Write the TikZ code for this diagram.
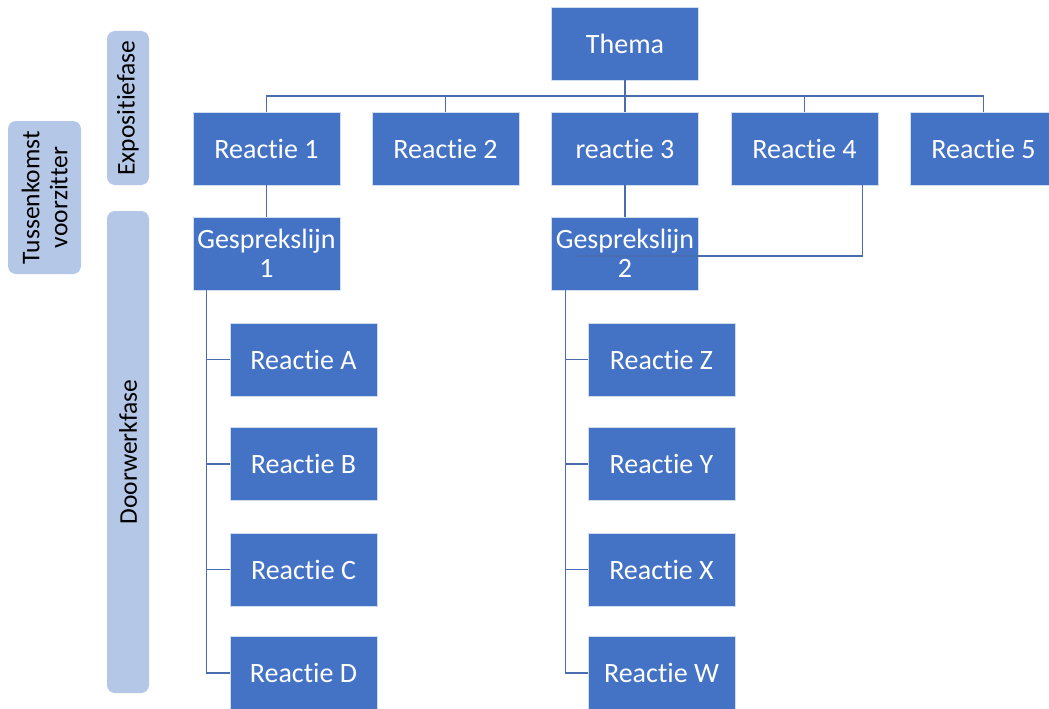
\documentclass[tikz,border=0pt]{standalone}
\usepackage{fontspec}
\setmainfont{Carlito}[Ligatures=NoCommon]
\definecolor{dblue}{HTML}{4472C4}
\definecolor{lblue}{HTML}{B4C7E7}
\definecolor{lcol}{HTML}{4A6DB0}
\begin{document}
\begin{tikzpicture}[x=1pt,y=-1pt,
  box/.style={fill=dblue, draw=white!75!dblue, line width=0.6pt, text=white,
    minimum width=147pt, minimum height=73pt, inner sep=0pt,
    font=\fontsize{28}{29}\selectfont, align=center},
  lbox/.style={fill=lblue, rounded corners=8pt, text=black, inner sep=0pt,
    font=\fontsize{25.5}{28}\selectfont, align=center, rotate=90},
  conn/.style={draw=lcol, line width=1.1pt}]
\useasboundingbox (0,0) rectangle (1049,709);
\clip (0,0) rectangle (1049,709);
% left side labels
\node[lbox, minimum width=154pt, minimum height=42pt] (expo) at (128,108) {Expositiefase};
\node[lbox, minimum width=482pt, minimum height=42pt] (door) at (128,452) {Doorwerkfase};
\node[lbox, minimum width=153pt, minimum height=73pt] (tuss) at (44.5,197.5) {Tussenkomst\\voorzitter};
% main tree
\node[box] (thema) at (625,43.5) {Thema};
\node[box] (r1) at (266.5,148.5) {Reactie 1};
\node[box] (r2) at (445.5,148.5) {Reactie 2};
\node[box] (r3) at (625,148.5) {reactie 3};
\node[box] (r4) at (804.5,148.5) {Reactie 4};
\node[box] (r5) at (983.5,148.5) {Reactie 5};
\node[box] (g1) at (266.5,253.5) {Gesprekslijn\\1};
\node[box] (g2) at (625,253.5) {Gesprekslijn\\2};
\node[box] (ra) at (303.5,359.5) {Reactie A};
\node[box] (rb) at (303.5,464) {Reactie B};
\node[box] (rc) at (303.5,569.5) {Reactie C};
\node[box] (rd) at (303.5,673) {Reactie D};
\node[box] (rz) at (661.5,359.5) {Reactie Z};
\node[box] (ry) at (661.5,464) {Reactie Y};
\node[box] (rx) at (661.5,569.5) {Reactie X};
\node[box] (rw) at (661.5,673) {Reactie W};
% connectors
\coordinate (bus) at (625,96);
\draw[conn] (thema.south) -- (r3.north);
\draw[conn] (r1.north) |- (bus) -| (r5.north);
\draw[conn] (r2.north) -- (r2.north |- bus);
\draw[conn] (r4.north) -- (r4.north |- bus);
\draw[conn] (r1.south) -- (g1.north);
\draw[conn] (r3.south) -- (g2.north);
\draw[conn] ([xshift=-16pt]r4.south east) |- ([xshift=26pt,yshift=-2.5pt]g2.west);
\foreach \n in {ra,rb,rc,rd} \draw[conn] ([xshift=14pt]g1.south west) |- (\n.west);
\foreach \n in {rz,ry,rx,rw} \draw[conn] ([xshift=14pt]g2.south west) |- (\n.west);
\end{tikzpicture}
\end{document}
